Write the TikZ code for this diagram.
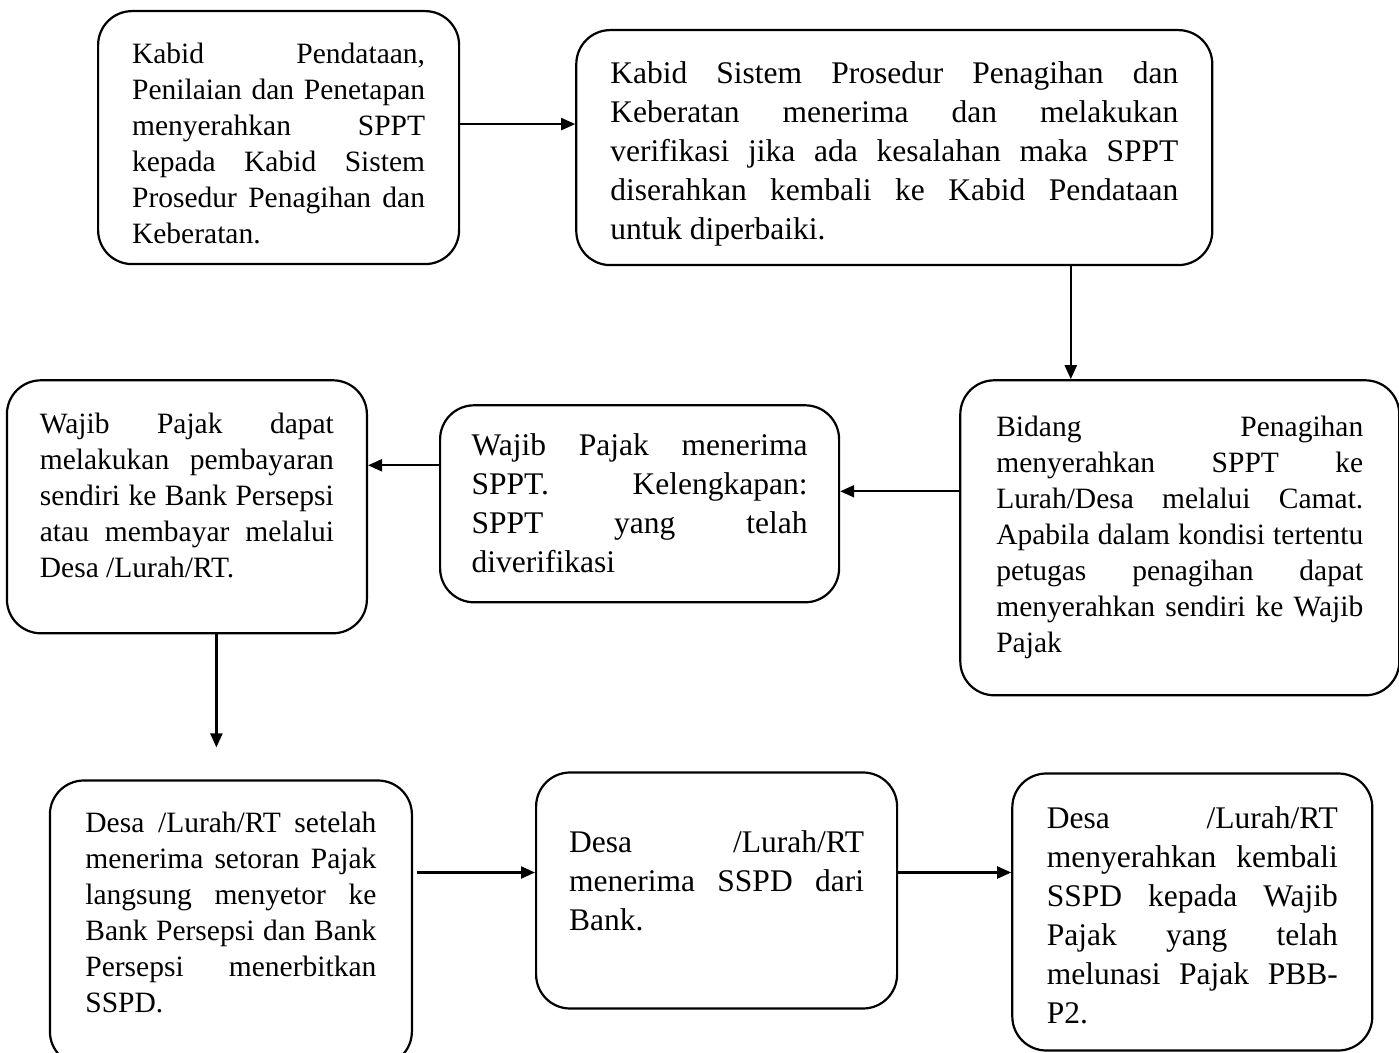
\documentclass[tikz,border=0pt]{standalone}
\usepackage{fontspec}
\setmainfont{Liberation Serif}
\usetikzlibrary{arrows.meta,positioning}
\newlength{\rowwidth}
\newcommand{\jrow}[1]{\hbox to \rowwidth{\spaceskip=0pt\xspaceskip=0pt #1}\par}

\begin{document}
\begin{tikzpicture}[
  stage/.style={draw, line width=1.1pt, rounded corners=17pt, inner ysep=0pt, align=left, anchor=north west},
  textcol/.style={text width=#1, execute at begin node={\setlength{\rowwidth}{#1}}},
  smallfont/.style={font=\fontsize{14.75pt}{18pt}\selectfont},
  largefont/.style={font=\fontsize{15.75pt}{19.5pt}\selectfont},
  arrow/.style={-{Triangle[length=7pt,width=6pt]}, line width=1.1pt}
]
\useasboundingbox (0,0) rectangle (699.5pt,-526.5pt);
\node[stage, smallfont, textcol=146.5pt, inner xsep=17pt, text height=26pt, text depth=100.5pt] (data) at (48.5pt,-5pt)
  {\jrow{Kabid Pendataan,}\jrow{Penilaian dan Penetapan}\jrow{menyerahkan SPPT}\jrow{kepada Kabid Sistem}\jrow{Prosedur Penagihan dan}\jrow{Keberatan.\hfil}};
\node[stage, largefont, textcol=284pt, inner xsep=17pt, text height=26.5pt, text depth=91pt, below right=9.5pt and 57.5pt of data.north east] (verif)
  {\jrow{Kabid Sistem Prosedur Penagihan dan}\jrow{Keberatan menerima dan melakukan}\jrow{verifikasi jika ada kesalahan maka SPPT}\jrow{diserahkan kembali ke Kabid Pendataan}\jrow{untuk diperbaiki.\hfil}};
\node[stage, smallfont, textcol=183.5pt, inner xsep=18pt, text height=28pt, text depth=129.5pt, below left=56.5pt and -93.5pt of verif.south east] (tagih)
  {\jrow{Bidang Penagihan}\jrow{menyerahkan SPPT ke}\jrow{Lurah/Desa melalui Camat.}\jrow{Apabila dalam kondisi tertentu}\jrow{petugas penagihan dapat}\jrow{menyerahkan sendiri ke Wajib}\jrow{Pajak\hfil}};
\node[stage, largefont, textcol=168pt, inner xsep=15.75pt, text height=25pt, text depth=73.5pt, below left=12.5pt and 59.5pt of tagih.north west] (terima)
  {\jrow{Wajib Pajak menerima}\jrow{SPPT. Kelengkapan:}\jrow{SPPT yang telah}\jrow{diverifikasi\hfil}};
\node[stage, smallfont, textcol=147pt, inner xsep=16.5pt, text height=26.5pt, text depth=100pt, below left=-12.5pt and 35.5pt of terima.north west] (bayar)
  {\jrow{Wajib Pajak dapat}\jrow{melakukan pembayaran}\jrow{sendiri ke Bank Persepsi}\jrow{atau membayar melalui}\jrow{Desa /Lurah/RT.\hfil}};
\node[stage, smallfont, textcol=145.5pt, inner xsep=17.75pt, text height=26pt, text depth=116.5pt, below right=72.5pt and 21.5pt of bayar.south west] (setor)
  {\jrow{Desa /Lurah/RT setelah}\jrow{menerima setoran Pajak}\jrow{langsung menyetor ke}\jrow{Bank Persepsi dan Bank}\jrow{Persepsi menerbitkan}\jrow{SSPD.\hfil}};
\node[stage, largefont, textcol=147.5pt, inner xsep=16.5pt, text height=40pt, text depth=78pt, below right=-4pt and 61pt of setor.north east] (sspd)
  {\jrow{Desa /Lurah/RT}\jrow{menerima SSPD dari}\jrow{Bank.\hfil}};
\node[stage, largefont, textcol=145.5pt, inner xsep=17.25pt, text height=27.5pt, text depth=111pt, below right=0.5pt and 56.5pt of sspd.north east] (lunas)
  {\jrow{Desa /Lurah/RT}\jrow{menyerahkan kembali}\jrow{SSPD kepada Wajib}\jrow{Pajak yang telah}\jrow{melunasi Pajak PBB-}\jrow{P2.\hfil}};
\coordinate (ujung) at ([xshift=-7.25pt,yshift=16pt]setor.north);
\draw[arrow] ([yshift=6.75pt]data.east) -- ([yshift=6.75pt]data.east -| verif.west);
\draw[arrow] ([xshift=-54.5pt]tagih.north |- verif.south) -- ([xshift=-54.5pt]tagih.north);
\draw[arrow] ([yshift=6.25pt]terima.east -| tagih.west) -- ([yshift=6.25pt]terima.east);
\draw[arrow] ([yshift=19.25pt]terima.west) -- ([yshift=19.25pt]terima.west -| bayar.east);
\draw[arrow] (bayar.south -| ujung) -- (ujung);
\draw[arrow, shorten <=2pt] ([yshift=9pt]sspd.west -| setor.east) -- ([yshift=9pt]sspd.west);
\draw[arrow] ([yshift=9pt]sspd.east) -- ([yshift=9pt]sspd.east -| lunas.west);
\end{tikzpicture}
\end{document}
